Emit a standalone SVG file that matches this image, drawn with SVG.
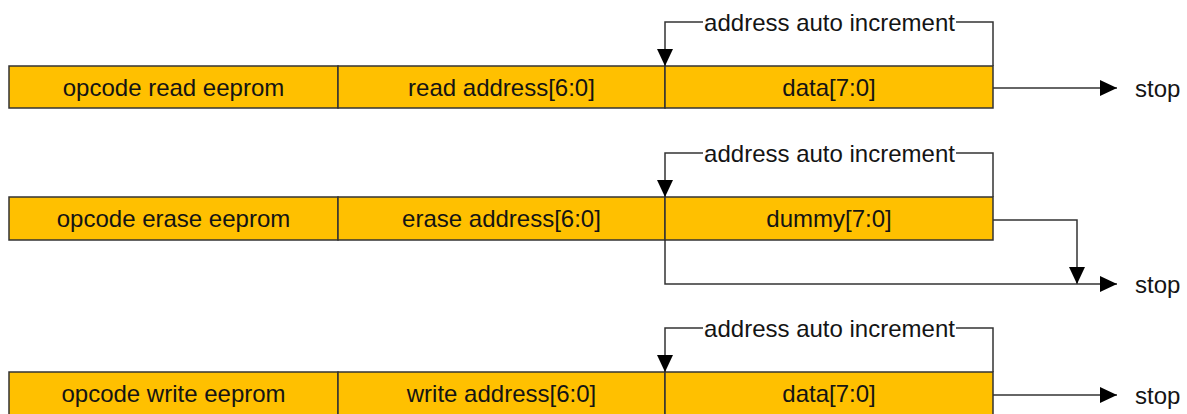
<svg xmlns="http://www.w3.org/2000/svg" width="1187" height="414" viewBox="0 0 1187 414">
<style>
.box{fill:#FFC000;stroke:#333;stroke-width:1.5}
.ln{fill:none;stroke:#333;stroke-width:1.5}
.t{font-family:"Liberation Sans",Arial,sans-serif;font-size:24px;fill:#141414;text-anchor:middle}
.s{font-family:"Liberation Sans",Arial,sans-serif;font-size:24px;fill:#141414}
</style>
<defs>
<marker id="ah" markerUnits="userSpaceOnUse" markerWidth="18" markerHeight="17" refX="17" refY="8" orient="auto">
<path d="M0,0 L17,8 L0,16 z" fill="#000"/>
</marker>
</defs>
<rect width="1187" height="414" fill="#fff"/>
<g id="row1">
<g id="r1-opcode"><rect class="box" x="9" y="66" width="329" height="42"/><text class="t" x="173.5" y="95.5">opcode read eeprom</text></g>
<g id="r1-addr"><rect class="box" x="338" y="66" width="327" height="42"/><text class="t" x="501.5" y="95.5">read address[6:0]</text></g>
<g id="r1-data"><rect class="box" x="665" y="66" width="328" height="42"/><text class="t" x="829" y="95.5">data[7:0]</text></g>
<g id="r1-label"><text class="t" x="829.5" y="30.5">address auto increment</text></g>
<g id="r1-stop"><text class="s" x="1135" y="96.5">stop</text></g>
</g>
<g id="row2">
<g id="r2-opcode"><rect class="box" x="9" y="197" width="329" height="43"/><text class="t" x="173.5" y="226.5">opcode erase eeprom</text></g>
<g id="r2-addr"><rect class="box" x="338" y="197" width="327" height="43"/><text class="t" x="501.5" y="226.5">erase address[6:0]</text></g>
<g id="r2-data"><rect class="box" x="665" y="197" width="328" height="43"/><text class="t" x="829" y="226.5">dummy[7:0]</text></g>
<g id="r2-label"><text class="t" x="829.5" y="161.5">address auto increment</text></g>
<g id="r2-stop"><text class="s" x="1135" y="292.5">stop</text></g>
</g>
<g id="row3">
<g id="r3-opcode"><rect class="box" x="9" y="372" width="329" height="43"/><text class="t" x="173.5" y="401.5">opcode write eeprom</text></g>
<g id="r3-addr"><rect class="box" x="338" y="372" width="327" height="43"/><text class="t" x="501.5" y="401.5">write address[6:0]</text></g>
<g id="r3-data"><rect class="box" x="665" y="372" width="328" height="43"/><text class="t" x="829" y="401.5">data[7:0]</text></g>
<g id="r3-label"><text class="t" x="829.5" y="336.5">address auto increment</text></g>
<g id="r3-stop"><text class="s" x="1135" y="403.5">stop</text></g>
</g>
<g id="connectors">
<path class="ln" d="M993,66 V22 H956"/>
<path class="ln" d="M703,22 H665 V66" marker-end="url(#ah)"/>
<path class="ln" d="M993,88 H1117" marker-end="url(#ah)"/>
<path class="ln" d="M993,197 V153 H956"/>
<path class="ln" d="M703,153 H665 V197" marker-end="url(#ah)"/>
<path class="ln" d="M993,220 H1077 V284" marker-end="url(#ah)"/>
<path class="ln" d="M665,240 V284 H1117" marker-end="url(#ah)"/>
<path class="ln" d="M993,372 V328 H956"/>
<path class="ln" d="M703,328 H665 V372" marker-end="url(#ah)"/>
<path class="ln" d="M993,395 H1117" marker-end="url(#ah)"/>
</g>
</svg>
